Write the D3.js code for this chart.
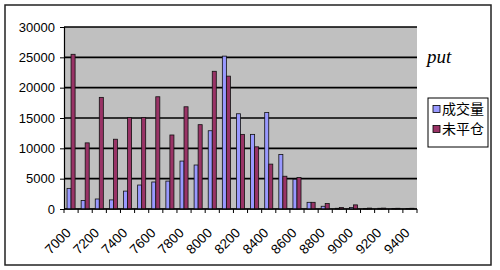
<!DOCTYPE html>
<html>
<head>
<meta charset="utf-8">
<script src="https://cdn.jsdelivr.net/npm/d3@7"></script>
<style>
  body { margin: 0; background: #fff; }
  svg { display: block; }
</style>
</head>
<body>
<svg id="chart" width="500" height="270"></svg>
<script>
// strike prices
var strikes = [7000, 7100, 7200, 7300, 7400, 7500, 7600, 7700, 7800, 7900,
               8000, 8100, 8200, 8300, 8400, 8500, 8600, 8700, 8800, 8900,
               9000, 9100, 9200, 9300, 9400];
// 成交量
var volume = [3400, 1400, 1650, 1500, 2950, 3950, 4450, 4600, 7900, 7250,
              12900, 25200, 15700, 12300, 15900, 9000, 4900, 1100, 450, 120,
              250, 100, 120, 100, 80];
// 未平仓
var openInt = [25500, 10900, 18400, 11500, 15100, 15100, 18500, 12200, 16850, 13900,
               22700, 21900, 12300, 10250, 7400, 5400, 5200, 1100, 900, 250,
               680, 150, 150, 120, 120];
var yTicks = [0, 5000, 10000, 15000, 20000, 25000, 30000];
var seriesNames = ["成交量", "未平仓"];
var seriesColors = ["#9999ff", "#993366"];

var svg = d3.select("#chart");

// outer chart frame
svg.append("rect")
    .attr("x", 5).attr("y", 5)
    .attr("width", 486).attr("height", 260)
    .attr("fill", "#fff")
    .attr("stroke", "#222")
    .attr("stroke-width", 1.5);

var plot = { left: 64, top: 27, right: 417, bottom: 209 };

var x = d3.scaleBand()
    .domain(strikes)
    .range([plot.left, plot.right]);

var y = d3.scaleLinear()
    .domain([0, 30000])
    .range([plot.bottom, plot.top]);

// inner band for the two series (Excel gap width 150%)
var inner = d3.scaleBand()
    .domain([0, 1])
    .range([0, x.bandwidth()])
    .paddingOuter(0.75)
    .paddingInner(0);

// plot area
svg.append("rect")
    .attr("x", plot.left).attr("y", plot.top)
    .attr("width", plot.right - plot.left)
    .attr("height", plot.bottom - plot.top)
    .attr("fill", "#c0c0c0");

// gridlines
svg.append("g")
    .selectAll("line")
    .data(yTicks)
    .join("line")
    .attr("x1", plot.left).attr("x2", plot.right)
    .attr("y1", d => y(d)).attr("y2", d => y(d))
    .attr("stroke", "#000")
    .attr("stroke-width", 1.6);

// bars
var rows = strikes.map((s, i) => ({ strike: s, values: [volume[i], openInt[i]] }));

var groups = svg.append("g")
    .selectAll("g")
    .data(rows)
    .join("g")
    .attr("transform", d => "translate(" + x(d.strike) + ",0)");

groups.selectAll("rect")
    .data(d => d.values.map((v, k) => ({ k: k, v: v })))
    .join("rect")
    .attr("x", d => inner(d.k))
    .attr("width", inner.bandwidth())
    .attr("y", d => y(d.v))
    .attr("height", d => y(0) - y(d.v))
    .attr("fill", d => seriesColors[d.k])
    .attr("stroke", "#111")
    .attr("stroke-width", 0.8);

// y axis
var yAxis = svg.append("g")
    .attr("transform", "translate(" + plot.left + ",0)")
    .call(d3.axisLeft(y).tickValues(yTicks).tickSize(4).tickPadding(5).tickFormat(d3.format("d")));
yAxis.select(".domain").attr("stroke", "#000").attr("stroke-width", 1.2);
yAxis.selectAll("text")
    .attr("font-family", "Liberation Sans, Arial, sans-serif")
    .attr("font-size", 13)
    .attr("fill", "#000");

// x axis: ticks between categories, labels every other category
var xAxisG = svg.append("g")
    .attr("transform", "translate(0," + plot.bottom + ")");
xAxisG.append("line")
    .attr("x1", plot.left).attr("x2", plot.right)
    .attr("stroke", "#000").attr("stroke-width", 1.2);
xAxisG.selectAll("line.tick")
    .data(strikes.concat(["end"]))
    .join("line")
    .attr("class", "tick")
    .attr("x1", d => d === "end" ? plot.right : x(d))
    .attr("x2", d => d === "end" ? plot.right : x(d))
    .attr("y1", 0).attr("y2", 4)
    .attr("stroke", "#000");

xAxisG.selectAll("text")
    .data(strikes.filter((d, i) => i % 2 === 0))
    .join("text")
    .attr("transform", d => "translate(" + (x(d) + x.bandwidth() / 2 - 6) + ",18) rotate(-45)")
    .attr("text-anchor", "end")
    .attr("dy", "0.7em")
    .attr("font-family", "Liberation Sans, Arial, sans-serif")
    .attr("font-size", 13.5)
    .attr("fill", "#000")
    .text(d => d);

// title on the right
svg.append("text")
    .attr("x", 427).attr("y", 63)
    .attr("font-family", "Liberation Serif, Times New Roman, serif")
    .attr("font-style", "italic")
    .attr("font-size", 19)
    .attr("fill", "#000")
    .text("put");

// legend
var legend = svg.append("g").attr("transform", "translate(428,98)");
legend.append("rect")
    .attr("width", 60).attr("height", 49)
    .attr("fill", "#fff")
    .attr("stroke", "#000")
    .attr("stroke-width", 1);
var items = legend.selectAll("g.item")
    .data(seriesNames)
    .join("g")
    .attr("class", "item")
    .attr("transform", (d, i) => "translate(0," + (11 + i * 20) + ")");
items.append("rect")
    .attr("x", 5).attr("y", -3.5)
    .attr("width", 7).attr("height", 7)
    .attr("fill", (d, i) => seriesColors[i])
    .attr("stroke", "#000")
    .attr("stroke-width", 0.8);
items.append("text")
    .attr("x", 14).attr("y", 0)
    .attr("dy", "0.36em")
    .attr("font-family", "Noto Sans CJK SC, sans-serif")
    .attr("font-size", 14)
    .attr("fill", "#000")
    .text(d => d);
</script>
</body>
</html>
